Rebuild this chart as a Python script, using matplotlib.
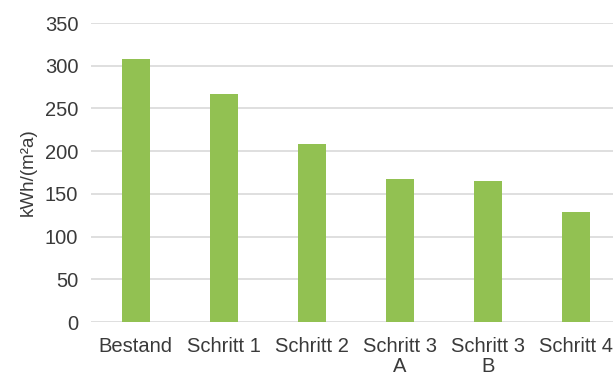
import matplotlib.pyplot as plt

plt.rcParams["font.family"] = ["Liberation Sans", "DejaVu Sans"]

CATEGORIES = ["Bestand", "Schritt 1", "Schritt 2", "Schritt 3\nA", "Schritt 3\nB", "Schritt 4"]
VALUES = [308, 267, 208, 167, 165, 129]
Y_TICKS = [0, 50, 100, 150, 200, 250, 300, 350]

BAR_COLOR = "#92c152"
GRID_COLOR = "#d9d9d9"
TEXT_COLOR = "#3a3a3a"

fig = plt.figure(figsize=(6.13, 3.76), dpi=100)
ax = fig.add_axes([0.148, 0.1436, 0.852, 0.795])

x = range(len(CATEGORIES))
ax.bar(x, VALUES, width=0.32, color=BAR_COLOR, zorder=3)

ax.set_xlim(-0.51, 5.42)
ax.set_ylim(0, 350)
ax.set_yticks(Y_TICKS)
ax.set_xticks(list(x))
ax.set_xticklabels(CATEGORIES, linespacing=1.05)
ax.set_ylabel("kWh/(m²a)", fontsize=13.5, color=TEXT_COLOR, labelpad=6)

ax.grid(axis="y", color=GRID_COLOR, linewidth=1.2, zorder=0)
ax.tick_params(axis="both", length=0, labelsize=14.5, colors=TEXT_COLOR)
ax.tick_params(axis="x", pad=11)
ax.tick_params(axis="y", pad=9)
for side in ["top", "right", "left", "bottom"]:
    ax.spines[side].set_visible(False)

fig.savefig("out.png", dpi=100)
